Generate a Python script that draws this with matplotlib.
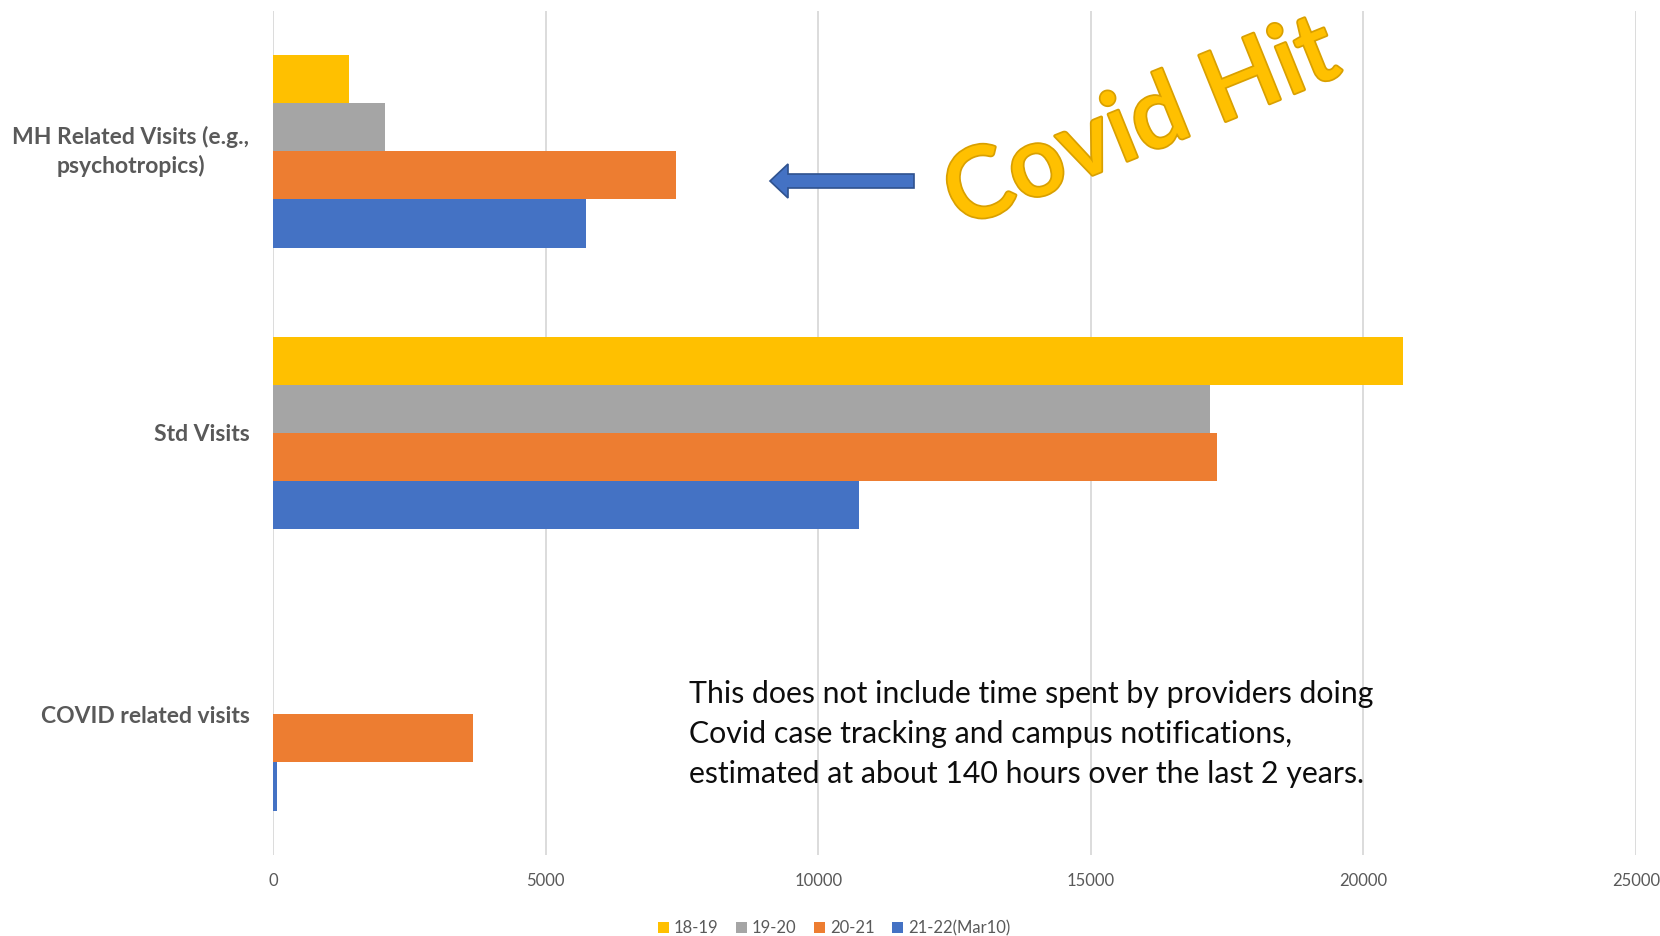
import matplotlib
matplotlib.use("Agg")
import matplotlib.pyplot as plt
import matplotlib.patheffects as pe
from matplotlib.patches import Patch, Polygon
import numpy as np

plt.rcParams['font.family'] = ['Lato', 'DejaVu Sans']

# Categories listed bottom to top
categories = ["COVID related visits", "Std Visits", "MH Related Visits (e.g.,\npsychotropics)"]
series_names = ["18-19", "19-20", "20-21", "21-22(Mar10)"]
series_colors = ["#FFC000", "#A5A5A5", "#ED7D31", "#4472C4"]

v_18_19 = [0, 20720, 1400]
v_19_20 = [0, 17180, 2050]
v_20_21 = [3670, 17310, 7400]
v_21_22 = [65, 10740, 5750]
series_values = [v_18_19, v_19_20, v_20_21, v_21_22]

x_ticks = [0, 5000, 10000, 15000, 20000, 25000]

note = ("This does not include time spent by providers doing\n"
        "Covid case tracking and campus notifications,\n"
        "estimated at about 140 hours over the last 2 years.")

W, H = 1660, 936
fig = plt.figure(figsize=(W / 100, H / 100), dpi=100)


def fx(x):
    return x / W


def fy(y):
    return 1 - y / H


ax = fig.add_axes([fx(273), fy(855), fx(1636) - fx(273), (855 - 10.6) / H])

bar_h = 0.171
ypos = np.arange(len(categories))
for i, (vals, col, name) in enumerate(zip(series_values, series_colors, series_names)):
    offset = (1.5 - i) * bar_h
    ax.barh(ypos + offset, vals, height=bar_h, color=col, label=name,
            edgecolor='none', zorder=3)

ax.set_xlim(0, 25000)
ax.set_ylim(-0.5, 2.5)
ax.set_xticks(x_ticks)
ax.set_xticklabels([str(t) for t in x_ticks])
ax.set_yticks(ypos)
ylabels = ax.set_yticklabels(categories, fontweight='bold', multialignment='center',
                             linespacing=1.4)
# the two-line label sits centred on its group
ylabels[-1].set_verticalalignment('center')
ax.tick_params(axis='x', length=0, labelsize=12, labelcolor='#595959', pad=13)
ax.tick_params(axis='y', length=0, labelsize=16.5, labelcolor='#595959', pad=17)
ax.grid(axis='x', color='#D9D9D9', linewidth=1.3, zorder=0)
ax.set_axisbelow(True)
for s in ax.spines.values():
    s.set_visible(False)

# Legend along the bottom
handles = [Patch(facecolor=c, edgecolor='none') for c in series_colors]
fig.legend(handles, series_names, loc='center', bbox_to_anchor=(fx(834), fy(928)),
           ncol=4, frameon=False, fontsize=12, labelcolor='#595959',
           handlelength=0.66, handleheight=0.66, handletextpad=0.3,
           columnspacing=1.05, borderpad=0)

# Explanatory note
fig.text(fx(689), fy(734), note, ha='left', va='center', fontsize=21.8,
         color='#0D0D0D', linespacing=1.5)

# Left-pointing block arrow
arrow_px = [(770, 181), (788, 164), (788, 174), (914, 174),
            (914, 188), (788, 188), (788, 198)]
arrow = Polygon([(fx(x), fy(y)) for x, y in arrow_px], closed=True,
                transform=fig.transFigure, facecolor='#4472C4',
                edgecolor='#2F528F', linewidth=1.2)
fig.add_artist(arrow)

# Tilted headline
fig.text(fx(1152), fy(151), "Covid Hit", rotation=22, rotation_mode='anchor',
         ha='center', va='baseline', fontsize=71, color='#FFC000',
         fontweight='semibold',
         path_effects=[pe.withStroke(linewidth=2.5, foreground='#D9A000')])

fig.savefig("out.png", dpi=100, facecolor='white')
